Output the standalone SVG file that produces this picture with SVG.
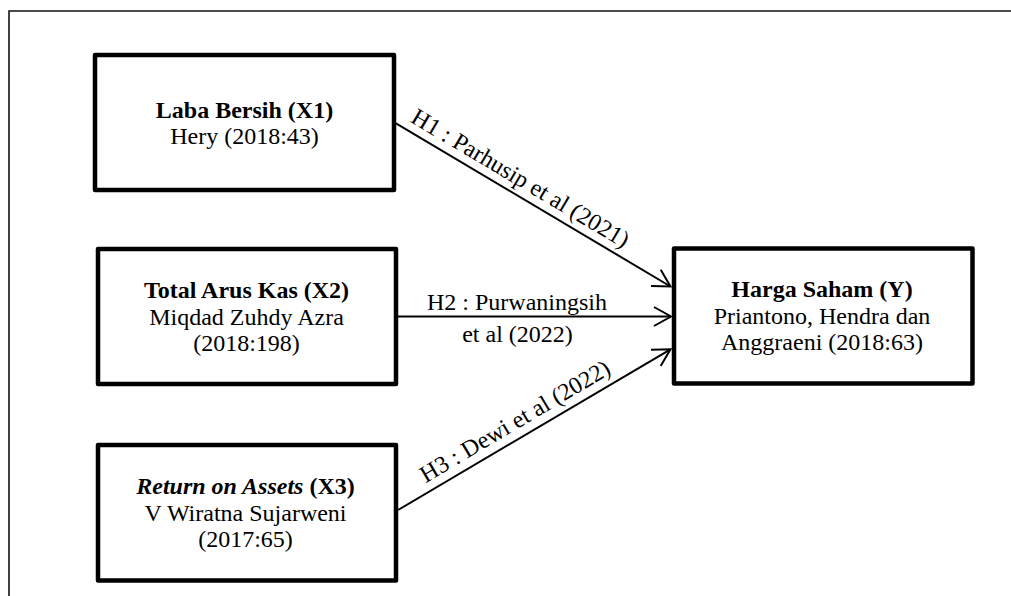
<svg xmlns="http://www.w3.org/2000/svg" width="1011" height="596" viewBox="0 0 1011 596">
<style>
.frame{fill:none;stroke:#111;stroke-width:1.6}
.box{fill:#fff;stroke:#000;stroke-width:4.5;stroke-linejoin:round}
.t{font-family:"Liberation Serif","Times New Roman",serif;font-size:24px;fill:#000;text-anchor:middle}
.b{font-weight:bold}
.i{font-style:italic}
.conn{fill:none;stroke:#000;stroke-width:2}
</style>
<defs>
<marker id="arr" markerUnits="userSpaceOnUse" viewBox="-20 -12 22 24" markerWidth="22" markerHeight="24" refX="0" refY="0" orient="auto">
<path d="M-17,-9.5 L0,0 L-17,9.5" fill="none" stroke="#000" stroke-width="2"/>
</marker>
</defs>
<path class="frame" d="M9,600 L9,11 L1015,11"/>
<g id="connectors">
<line class="conn" x1="396" y1="123.3" x2="670.5" y2="286.5" marker-end="url(#arr)"/>
<line class="conn" x1="398" y1="316.5" x2="671" y2="316.5" marker-end="url(#arr)"/>
<line class="conn" x1="398" y1="510" x2="670.5" y2="349.3" marker-end="url(#arr)"/>
<text class="t" transform="translate(516.5,185) rotate(30.7)">H1 : Parhusip et al (2021)</text>
<text class="t" x="517" y="310">H2 : Purwaningsih</text>
<text class="t" x="517.5" y="342">et al (2022)</text>
<text class="t" transform="translate(519,428) rotate(-30.6)">H3 : Dewi et al (2022)</text>
</g>
<g id="x1">
<rect class="box" x="95" y="55" width="299" height="135"/>
<text class="t b" x="244.5" y="118">Laba Bersih (X1)</text>
<text class="t" x="244.5" y="144">Hery (2018:43)</text>
</g>
<g id="x2">
<rect class="box" x="98" y="249" width="298" height="135"/>
<text class="t b" x="246.5" y="298">Total Arus Kas (X2)</text>
<text class="t" x="246.5" y="324.5">Miqdad Zuhdy Azra</text>
<text class="t" x="246.5" y="351">(2018:198)</text>
</g>
<g id="x3">
<rect class="box" x="98" y="445" width="298" height="135.5"/>
<text class="t b" x="245.5" y="494"><tspan class="i">Return on Assets</tspan> (X3)</text>
<text class="t" x="245.5" y="520.5">V Wiratna Sujarweni</text>
<text class="t" x="245.5" y="547">(2017:65)</text>
</g>
<g id="y">
<rect class="box" x="674" y="248.5" width="298.5" height="135"/>
<text class="t b" x="822" y="297">Harga Saham (Y)</text>
<text class="t" x="822" y="323.5">Priantono, Hendra dan</text>
<text class="t" x="822" y="350">Anggraeni (2018:63)</text>
</g>
</svg>
